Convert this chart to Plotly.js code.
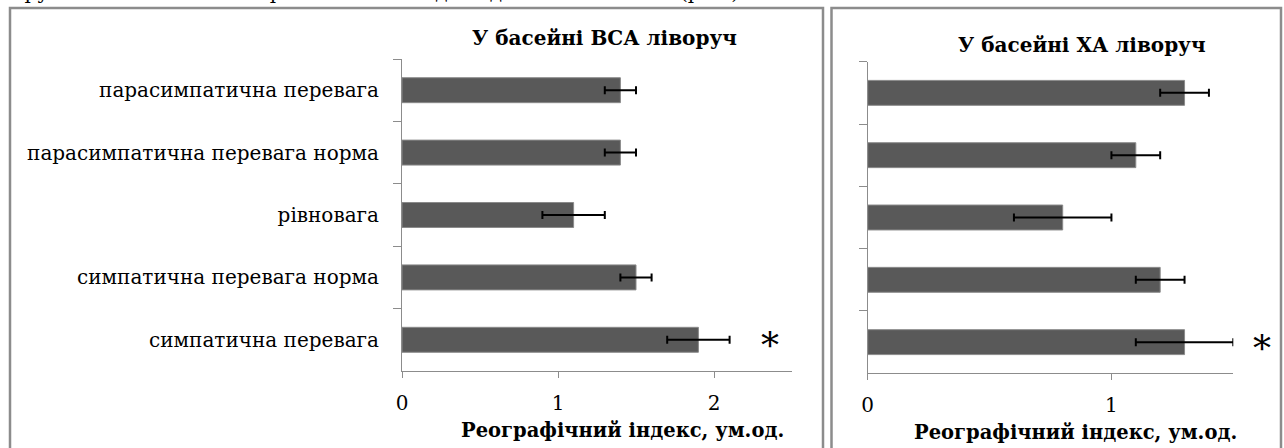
<!DOCTYPE html>
<html>
<head>
<meta charset="utf-8">
<script src="https://cdn.plot.ly/plotly-3.0.1.min.js"></script>
<style>html,body{margin:0;padding:0;background:#fff;}#chart{width:1284px;height:448px;}</style>
</head>
<body>
<div id="chart"></div>
<script>
// ---- data ----
const categories = [
  "парасимпатична перевага",
  "парасимпатична перевага норма",
  "рівновага",
  "симпатична перевага норма",
  "симпатична перевага"
];
const vsaValues = [1.4, 1.4, 1.1, 1.5, 1.9];
const vsaErrors = [0.1, 0.1, 0.2, 0.1, 0.2];
const xaValues = [1.3, 1.1, 0.8, 1.2, 1.3];
const xaErrors = [0.1, 0.1, 0.2, 0.1, 0.2];
const vsaTicks = [0, 1, 2];
const xaTicks = [0, 1];
const titleVSA = "У басейні ВСА ліворуч";
const titleXA = "У басейні ХА ліворуч";
const xTitle = "Реографічний індекс, ум.од.";
const significantCategory = "симпатична перевага";
const topText = "групі з симпатичною перевагою в обох досліджених басейнах (рис.).";

// ---- layout helpers ----
const W = 1284, H = 448;
const px = x => x / W;
const py = y => 1 - y / H;
const SERIF = "'DejaVu Serif', 'Liberation Serif', serif";
const barColor = "#595959";
const axisColor = "#8c8c8c";

const barTrace = (vals, errs, xa, ya) => ({
  type: "bar", orientation: "h",
  y: categories, x: vals,
  xaxis: xa, yaxis: ya,
  width: 0.4,
  marker: {color: barColor, line: {color: "#8a8a8a", width: 1}},
  error_x: {type: "data", array: errs, visible: true, color: "#000", thickness: 2, width: 4},
  hoverinfo: "x+y"
});

const data = [
  barTrace(vsaValues, vsaErrors, "x", "y"),
  barTrace(xaValues, xaErrors, "x2", "y2")
];

const xBase = {
  showgrid: false, zeroline: false, showline: true, linecolor: axisColor, linewidth: 1,
  ticks: "outside", ticklen: 6, tickcolor: axisColor, tickmode: "array",
  tickfont: {family: SERIF, size: 20, color: "#000"}, ticklabelstandoff: 8, fixedrange: true
};
const yBase = {
  type: "category", autorange: false, range: [4.5, -0.5],
  showgrid: false, zeroline: false, showline: true, linecolor: axisColor, linewidth: 1,
  ticks: "outside", ticklen: 8, tickcolor: axisColor, tickson: "boundaries",
  tickfont: {family: SERIF, size: 20, color: "#000"}, ticklabelstandoff: 18, fixedrange: true,
  categoryorder: "array", categoryarray: categories
};

const frame = (x0, x1) => ({
  type: "rect", xref: "paper", yref: "paper",
  x0: px(x0), x1: px(x1), y0: py(8), y1: py(470),
  line: {color: axisColor, width: 2.5}, fillcolor: "rgba(0,0,0,0)", layer: "below"
});

const layout = {
  width: W, height: H,
  margin: {l: 0, r: 0, t: 0, b: 0, pad: 0},
  paper_bgcolor: "#fff", plot_bgcolor: "rgba(0,0,0,0)",
  showlegend: false, bargap: 0.6,
  xaxis: Object.assign({}, xBase, {domain: [px(402), px(792)], range: [0, 2.5], tickvals: vsaTicks, anchor: "y"}),
  yaxis: Object.assign({}, yBase, {domain: [py(371), py(59)], anchor: "x"}),
  xaxis2: Object.assign({}, xBase, {domain: [px(867.7), px(1233.3)], range: [0, 1.5], tickvals: xaTicks, anchor: "y2"}),
  yaxis2: Object.assign({}, yBase, {domain: [py(373.3), py(61.7)], anchor: "x2", showticklabels: false}),
  shapes: [frame(10, 823), frame(831.5, 1281)],
  annotations: [
    {text: titleVSA, xref: "paper", yref: "paper", x: px(604), y: py(38), xanchor: "center", yanchor: "middle",
     showarrow: false, font: {family: SERIF, size: 20, color: "#000", weight: "bold"}},
    {text: titleXA, xref: "paper", yref: "paper", x: px(1082), y: py(45), xanchor: "center", yanchor: "middle",
     showarrow: false, font: {family: SERIF, size: 20, color: "#000", weight: "bold"}},
    {text: xTitle, xref: "paper", yref: "paper", x: px(622), y: py(430), xanchor: "center", yanchor: "middle",
     showarrow: false, font: {family: SERIF, size: 19.5, color: "#000", weight: "bold"}},
    {text: xTitle, xref: "paper", yref: "paper", x: px(1075), y: py(432), xanchor: "center", yanchor: "middle",
     showarrow: false, font: {family: SERIF, size: 19.5, color: "#000", weight: "bold"}},
    {text: "*", xref: "paper", yref: "y", x: px(770), y: significantCategory, xanchor: "center", yanchor: "middle",
     yshift: -6, showarrow: false, font: {family: SERIF, size: 36, color: "#000"}},
    {text: "*", xref: "paper", yref: "y2", x: px(1262), y: significantCategory, xanchor: "center", yanchor: "middle",
     yshift: -6, showarrow: false, font: {family: SERIF, size: 36, color: "#000"}},
    {text: topText, xref: "paper", yref: "paper", x: px(12), y: py(6), xanchor: "left", yanchor: "bottom",
     showarrow: false, font: {family: SERIF, size: 20, color: "#000"}}
  ]
};

Plotly.newPlot("chart", data, layout, {displayModeBar: false, staticPlot: true});
</script>
</body>
</html>
